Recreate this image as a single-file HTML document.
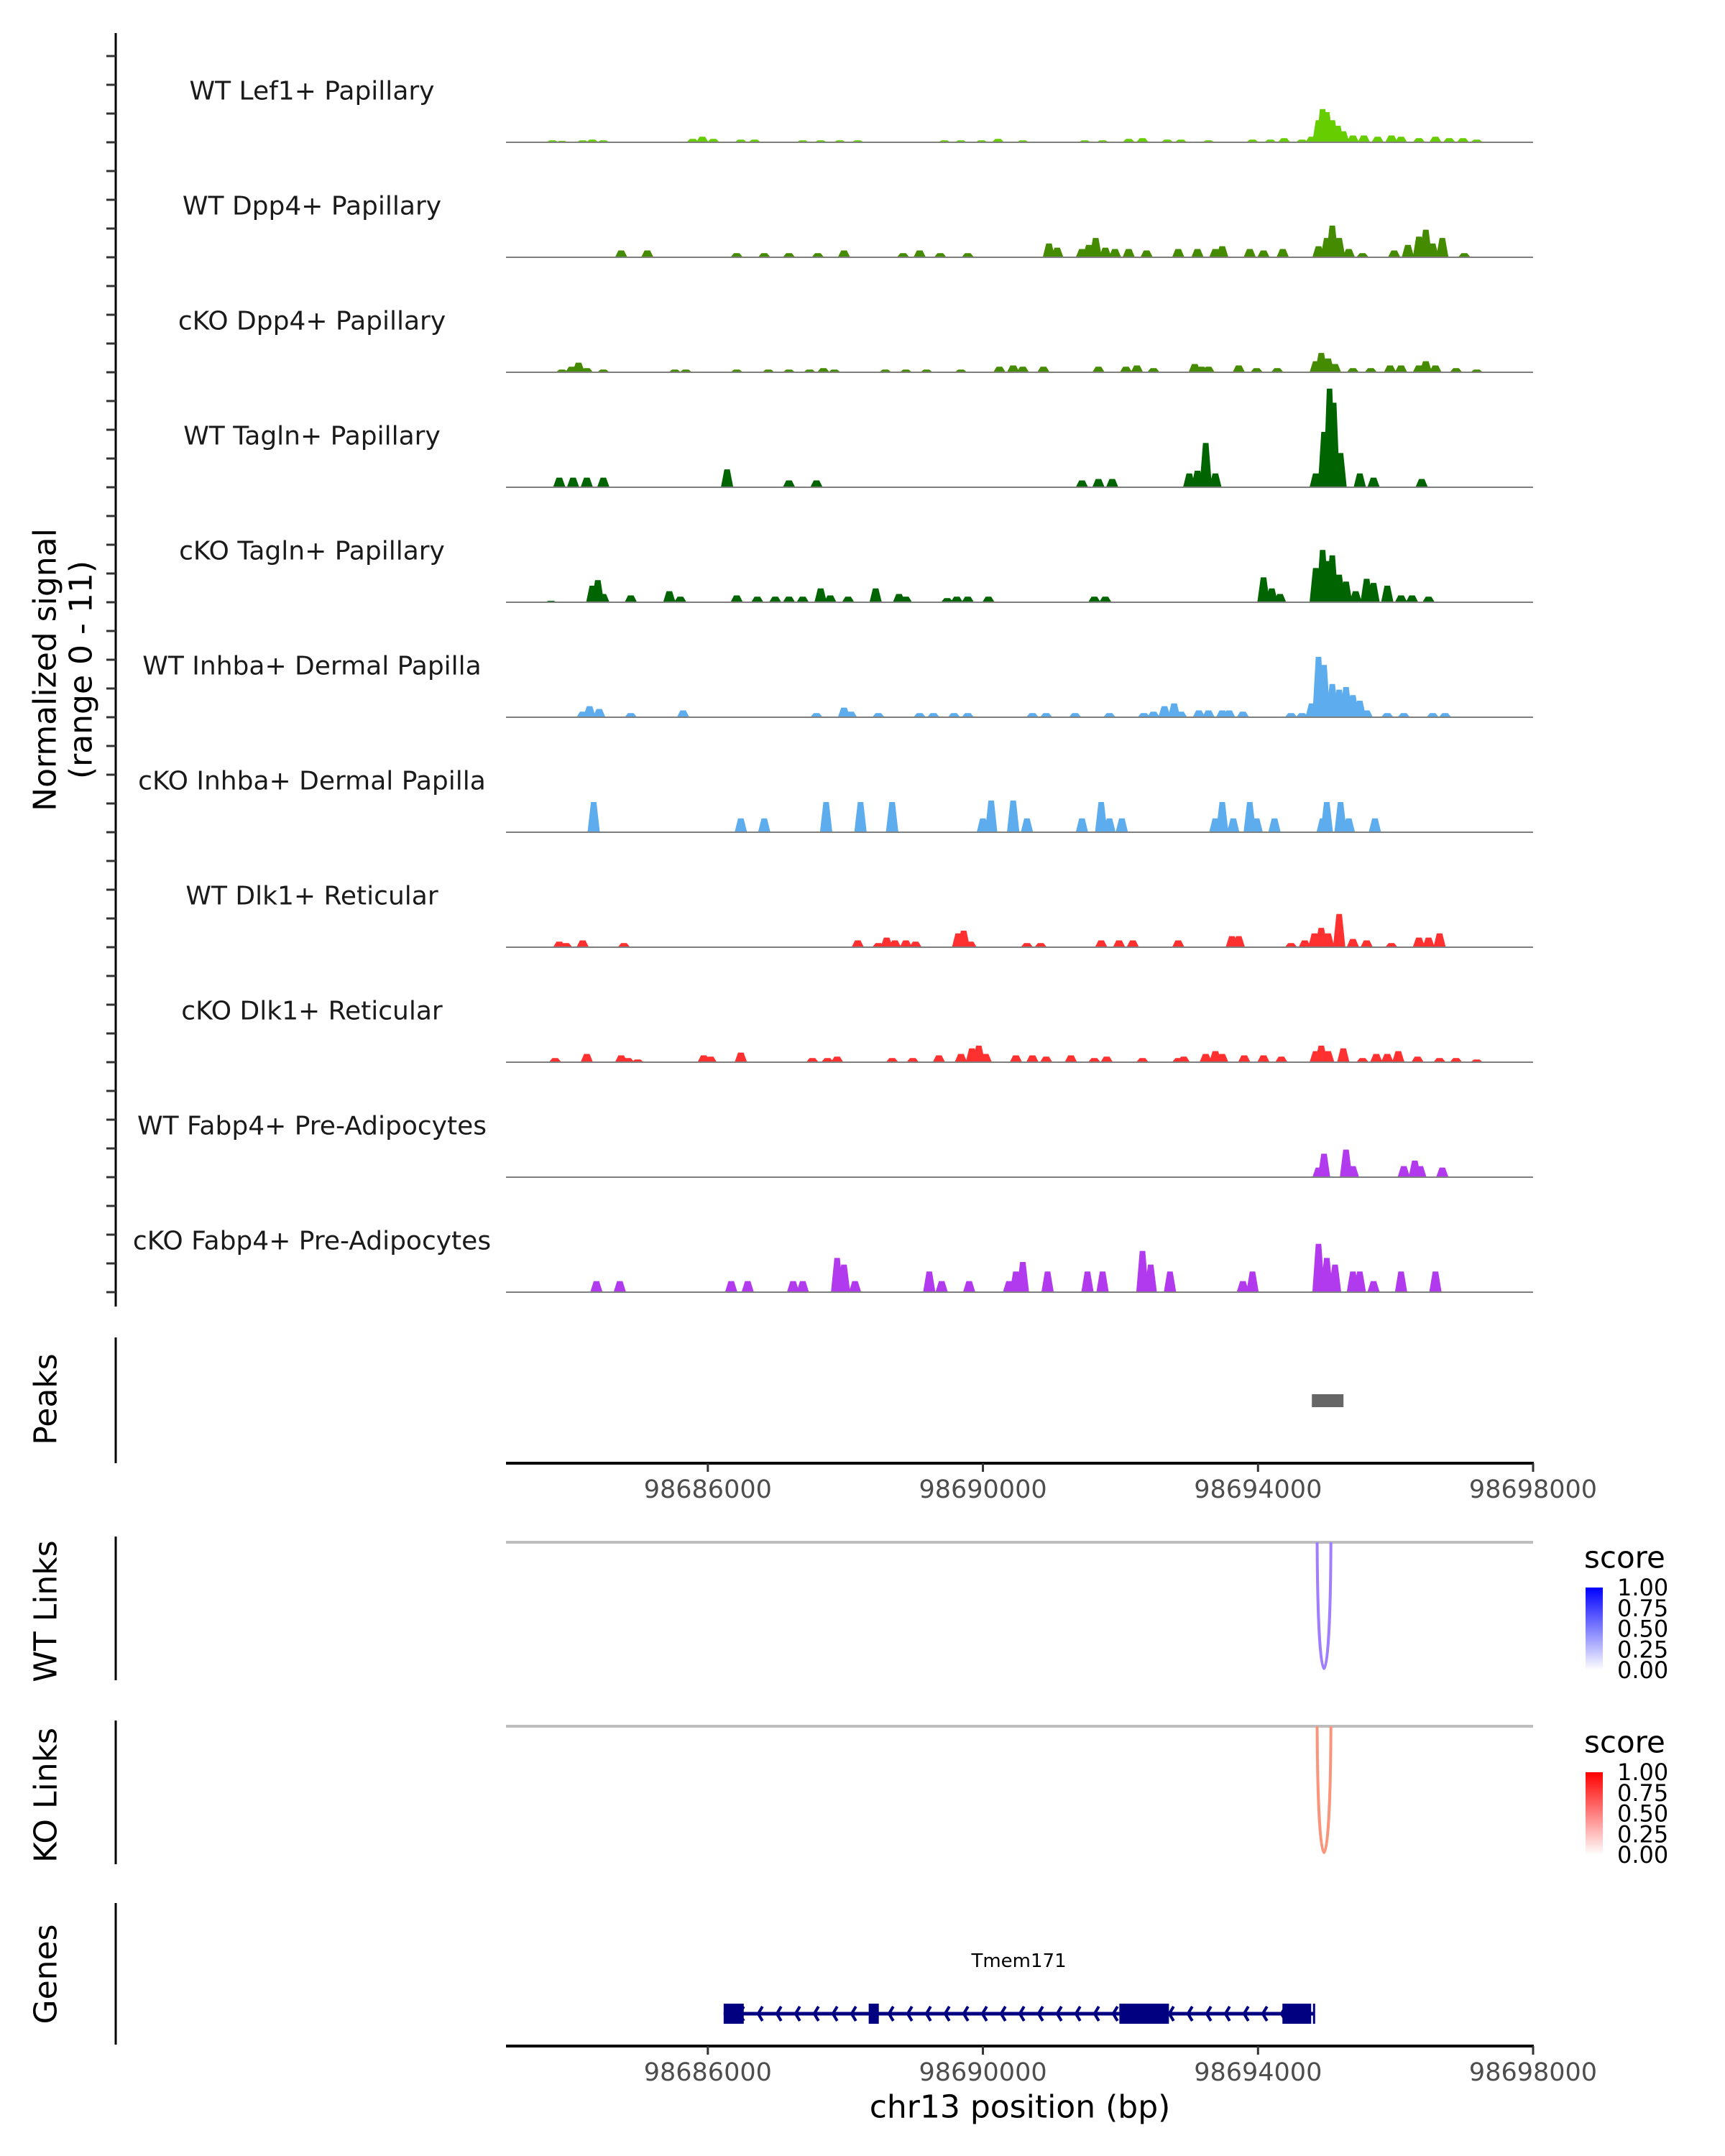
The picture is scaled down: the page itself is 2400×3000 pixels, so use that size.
<!DOCTYPE html>
<html><head><meta charset="utf-8"><style>
html,body{margin:0;padding:0;background:#fff;}
svg{display:block;font-family:"DejaVu Sans","Liberation Sans",sans-serif;}
</style></head><body>
<svg id="chart" width="2400" height="3000" viewBox="0 0 2400 3000" xmlns="http://www.w3.org/2000/svg">
<rect x="0" y="0" width="2400" height="3000" fill="#fff"/>
<g id="tracks"></g>
<g id="lower"></g>
</svg>
<script>
// ---- data ----
const trackNames = ["WT Lef1+ Papillary","WT Dpp4+ Papillary","cKO Dpp4+ Papillary","WT Tagln+ Papillary","cKO Tagln+ Papillary","WT Inhba+ Dermal Papilla","cKO Inhba+ Dermal Papilla","WT Dlk1+ Reticular","cKO Dlk1+ Reticular","WT Fabp4+ Pre-Adipocytes","cKO Fabp4+ Pre-Adipocytes"];
const trackColors = ["#66cd00","#458b00","#458b00","#006400","#006400","#5cacee","#5cacee","#ff3030","#ff3030","#b23aee","#b23aee"];
const lef1Pos=[98683740,98683880,98684180,98684320,98684480,98685780,98685920,98686080,98686480,98686680,98687380,98687640,98687920,98688180,98689440,98689680,98689980,98690220,98690580,98691480,98691740,98692120,98692320,98692680,98692880,98693280,98693920,98694180,98694380,98694640,98694780,98694880,98694940,98695000,98695080,98695160,98695240,98695380,98695540,98695740,98695940,98696080,98696340,98696580,98696780,98696980,98697180];
const lef1Val=[.2,.14,.2,.27,.2,.34,.55,.34,.27,.27,.2,.2,.2,.2,.2,.2,.2,.34,.2,.2,.2,.34,.41,.27,.27,.2,.27,.27,.41,.27,.55,2.2,3.3,3.0,2.2,1.64,1.1,.68,.68,.55,.68,.55,.41,.55,.41,.41,.27];
const dpp4WtPos=[98684740,98685120,98686420,98686820,98687180,98687600,98687980,98688840,98689080,98689380,98689780,98690960,98691080,98691440,98691540,98691640,98691780,98691920,98692120,98692380,98692840,98693120,98693380,98693480,98693880,98694080,98694360,98694880,98695000,98695080,98695180,98695320,98695520,98695980,98696180,98696340,98696440,98696540,98696680,98697000];
const dpp4WtVal=[.68,.68,.41,.41,.41,.41,.68,.41,.68,.41,.41,1.37,.96,.82,1.23,1.92,.96,.82,.82,.68,.82,.82,.82,1.1,.82,.68,.82,1.1,1.92,3.15,1.92,.82,.41,.68,1.23,2.05,2.74,1.37,1.92,.41];
const dpp4KoPos=[98683880,98684020,98684120,98684240,98684480,98685520,98685680,98686420,98686880,98687180,98687480,98687680,98687840,98688580,98688880,98689180,98689680,98690240,98690440,98690580,98690880,98691680,98692080,98692240,98692480,98693080,98693180,98693280,98693720,98693980,98694280,98694840,98694920,98695020,98695120,98695380,98695640,98695920,98696080,98696340,98696440,98696580,98696880,98697180];
const dpp4KoVal=[.27,.55,.96,.41,.27,.27,.27,.27,.27,.27,.27,.41,.27,.27,.27,.27,.27,.55,.68,.55,.55,.55,.55,.68,.41,.82,.55,.55,.68,.41,.41,1.1,1.92,1.37,.82,.41,.41,.68,.68,.68,1.1,.68,.41,.27];
const taglnWtPos=[98683840,98684040,98684240,98684480,98686280,98687180,98687580,98691440,98691680,98691880,98693000,98693120,98693240,98693380,98694840,98694960,98695040,98695100,98695200,98695480,98695680,98696380];
const taglnWtVal=[.96,.96,.96,.96,1.78,.68,.68,.68,.82,.82,1.37,1.64,4.4,1.37,1.37,5.5,9.8,8.4,3.4,1.37,.96,.82];
const taglnKoPos=[98683720,98684320,98684400,98684480,98684880,98685440,98685600,98686420,98686720,98686980,98687180,98687380,98687640,98687780,98688040,98688440,98688780,98688880,98689480,98689620,98689780,98690080,98691620,98691780,98694080,98694200,98694320,98694840,98694940,98695000,98695080,98695180,98695280,98695420,98695580,98695680,98695880,98696080,98696240,98696480];
const taglnKoVal=[.14,1.64,2.2,.82,.68,1.1,.55,.68,.55,.55,.55,.55,1.37,.68,.55,1.37,.82,.55,.41,.55,.55,.55,.55,.55,2.47,1.37,.82,3.4,5.2,4.1,4.66,2.74,2.05,1.1,2.33,1.92,1.64,.68,.68,.55];
const inhbaWtPos=[98684180,98684280,98684420,98684880,98685640,98687580,98687980,98688080,98688480,98689080,98689280,98689580,98689780,98690720,98690920,98691340,98691840,98692340,98692480,98692640,98692780,98692880,98693140,98693280,98693480,98693580,98693780,98694480,98694640,98694780,98694880,98694960,98695080,98695180,98695280,98695380,98695480,98695580,98695880,98696120,98696540,98696720];
const inhbaWtVal=[.55,1.1,.82,.41,.68,.41,.96,.55,.41,.41,.41,.41,.41,.41,.41,.41,.41,.41,.55,1.1,1.37,.55,.68,.68,.68,.68,.55,.41,.41,1.37,6.0,5.2,3.3,2.74,3.0,2.2,1.64,.68,.41,.41,.41,.41];
const inhbaKoPos=[98684340,98686480,98686820,98687720,98688220,98688680,98690000,98690120,98690440,98690640,98691440,98691720,98691840,98692020,98693380,98693480,98693640,98693880,98693980,98694240,98694940,98695000,98695200,98695320,98695700];
const inhbaKoVal=[3.0,1.37,1.37,3.0,3.0,3.0,1.37,3.15,3.15,1.37,1.37,3.0,1.37,1.37,1.37,3.0,1.37,3.0,1.37,1.37,1.37,3.0,3.0,1.37,1.37];
const dlk1WtPos=[98683840,98683940,98684180,98684780,98688180,98688480,98688600,98688720,98688880,98689020,98689640,98689720,98689820,98690640,98690840,98691720,98691980,98692180,98692840,98693620,98693720,98694480,98694680,98694820,98694920,98695020,98695180,98695380,98695580,98695940,98696340,98696480,98696640];
const dlk1WtVal=[.55,.41,.68,.41,.68,.41,.96,.68,.68,.55,1.37,1.64,.55,.41,.41,.68,.68,.68,.68,1.1,1.1,.41,.68,1.37,1.92,1.37,3.3,.82,.68,.41,.96,.96,1.37];
const dlk1KoPos=[98683780,98684240,98684740,98684840,98684980,98685940,98686040,98686480,98687520,98687740,98687880,98688680,98688980,98689360,98689680,98689840,98689940,98690040,98690480,98690720,98690920,98691280,98691620,98691800,98692320,98692840,98692920,98693240,98693380,98693480,98693800,98694080,98694340,98694840,98694920,98695020,98695240,98695520,98695720,98695880,98696040,98696320,98696640,98696880,98697180];
const dlk1KoVal=[.41,.82,.68,.41,.27,.68,.55,.96,.41,.41,.55,.41,.41,.68,.82,1.37,1.64,.82,.68,.68,.55,.68,.41,.55,.41,.41,.55,.82,1.1,.82,.68,.68,.55,1.1,1.64,1.1,1.37,.41,.82,.82,1.1,.55,.41,.41,.27];
const fabp4WtPos=[98694880,98694960,98695280,98695380,98696120,98696280,98696360,98696680];
const fabp4WtVal=[.96,2.33,2.74,1.1,1.1,1.64,1.1,.96];
const fabp4KoPos=[98684380,98684720,98686340,98686580,98687240,98687380,98687880,98687980,98688140,98689220,98689400,98689800,98690380,98690480,98690580,98690940,98691520,98691740,98692320,98692440,98692720,98693780,98693920,98694880,98695000,98695120,98695380,98695480,98695680,98696080,98696580];
const fabp4KoVal=[1.1,1.1,1.1,1.1,1.1,1.1,3.4,2.74,1.1,2.05,1.1,1.1,1.1,2.05,3.0,2.05,2.05,2.05,4.1,2.74,2.05,1.1,2.05,4.8,3.4,2.74,2.05,2.05,1.1,2.05,2.05];
const trackPos=[lef1Pos,dpp4WtPos,dpp4KoPos,taglnWtPos,taglnKoPos,inhbaWtPos,inhbaKoPos,dlk1WtPos,dlk1KoPos,fabp4WtPos,fabp4KoPos];
const trackVal=[lef1Val,dpp4WtVal,dpp4KoVal,taglnWtVal,taglnKoVal,inhbaWtVal,inhbaKoVal,dlk1WtVal,dlk1KoVal,fabp4WtVal,fabp4KoVal];
const xTicks=[98686000,98690000,98694000,98698000];
const peakStart=[98694783]; const peakEnd=[98695243];
const wtLinkStart=[98694860]; const wtLinkEnd=[98695060]; const wtLinkScore=[0.55];
const koLinkStart=[98694860]; const koLinkEnd=[98695060]; const koLinkScore=[0.55];
const legendTicks=["1.00","0.75","0.50","0.25","0.00"];
const geneStart=98686230, geneEnd=98694815;
const exonStart=[98686230,98688339,98691984,98694355];
const exonEnd=[98686522,98688486,98692705,98694773];

// ---- scales ----
const NS="http://www.w3.org/2000/svg";
const X0=704, X1=2133, BP0=98683065, BP1=98698000;
function xs(bp){return X0+(bp-BP0)/(BP1-BP0)*(X1-X0);}
const YMAX=11, TRACK_H=154, FIRST_BASE=198, STEP=160;
function ys(v,base){return base - v/YMAX*TRACK_H;}
function el(tag,attrs,parent,text){const e=document.createElementNS(NS,tag);for(const k in attrs)e.setAttribute(k,attrs[k]);if(text!==undefined)e.textContent=text;parent.appendChild(e);return e;}

const tracksG=document.getElementById('tracks');
const lower=document.getElementById('lower');
let a=el('line',{x1:161,y1:46,x2:161,y2:1818,stroke:'#000','stroke-width':3},tracksG);


for(let t=0;t<11;t++){
  const base=FIRST_BASE+t*STEP;
  for(let k=0;k<4;k++){
    const ty=base-k*40;
    const tk=el('line',{x1:148,y1:ty,x2:161,y2:ty,stroke:'#333','stroke-width':3},tracksG);
    
    
  }
  const g=el('g',{},tracksG);
  
  
  const lbl=el('text',{x:434,y:base-71,'font-size':36,'text-anchor':'middle','dominant-baseline':'central',fill:'#1a1a1a'},g,trackNames[t]);
  
  
  const P=trackPos[t],V=trackVal[t];
  let d='';
  for(let i=0;i<P.length;i++){
    const xl=xs(P[i]-90),xr=xs(P[i]+90),tl=xs(P[i]-40),tr=xs(P[i]+40),yt=ys(V[i],base);
    d+='M'+xl.toFixed(1)+' '+base+'L'+tl.toFixed(1)+' '+yt.toFixed(1)+'L'+tr.toFixed(1)+' '+yt.toFixed(1)+'L'+xr.toFixed(1)+' '+base+'Z';
  }
  const area=el('path',{d:d,fill:trackColors[t]},g);
  
  
  const bl=el('line',{x1:X0,y1:base,x2:X1,y2:base,stroke:'#7f7f7f','stroke-width':2},g);
  
  
}
const yt=el('text',{transform:'translate(63,932) rotate(-90)','font-size':44,'text-anchor':'middle','dominant-baseline':'central',fill:'#000'},tracksG,'Normalized signal');


const yt2=el('text',{transform:'translate(113,932) rotate(-90)','font-size':44,'text-anchor':'middle','dominant-baseline':'central',fill:'#000'},tracksG,'(range 0 - 11)');



function panelTitle(txt,cy,y1,y2,name){
  const l=el('line',{x1:161,y1:y1,x2:161,y2:y2,stroke:'#000','stroke-width':3},lower);
  
  
  const t=el('text',{transform:'translate(64,'+cy+') rotate(-90)','font-size':44,'text-anchor':'middle','dominant-baseline':'central',fill:'#000'},lower,txt);
  
  
}
function xAxis(y,name){
  const l=el('line',{x1:X0,y1:y,x2:X1+1,y2:y,stroke:'#000','stroke-width':4},lower);
  
  
  xTicks.forEach(v=>{
    const tk=el('line',{x1:xs(v),y1:y,x2:xs(v),y2:y+12,stroke:'#333','stroke-width':3},lower);
    
    
    const tl=el('text',{x:xs(v),y:y+37,'font-size':35,'text-anchor':'middle','dominant-baseline':'central',fill:'#4d4d4d'},lower,String(v));
    
    
  });
}
panelTitle('Peaks',1947,1861,2036,'peaks');
peakStart.forEach((s,i)=>{
  const r=el('rect',{x:xs(s),y:1940,width:xs(peakEnd[i])-xs(s),height:18,fill:'#666'},lower);
  
  
});
xAxis(2036,'peaks-x-axis');
function links(starts,ends,scores,topY,botY,colFn,name,legendY,gradId,c1){
  panelTitle(name==='wt-links'?'WT Links':'KO Links',(topY+botY)/2+4,topY-8,botY+8,name);
  const gl=el('line',{x1:X0,y1:topY,x2:X1,y2:topY,stroke:'#bebebe','stroke-width':4},lower);
  
  
  starts.forEach((s,i)=>{
    const x1=xs(s),x2=xs(ends[i]),depth=(botY-topY)*0.98;
    const p=el('path',{d:'M'+x1+' '+topY+' C'+(x1+1)+' '+(topY+depth*1.3)+' '+(x2-1)+' '+(topY+depth*1.3)+' '+x2+' '+topY,fill:'none',stroke:colFn(scores[i]),'stroke-width':4},lower);
    
    
  });
  const lt=el('text',{x:2204,y:legendY,'font-size':42,fill:'#000','dominant-baseline':'central'},lower,'score');
  
  
  const defs=el('defs',{},lower);
  const lg=el('linearGradient',{id:gradId,x1:0,y1:1,x2:0,y2:0},defs);
  el('stop',{offset:0,'stop-color':'#ffffff'},lg);
  el('stop',{offset:1,'stop-color':c1},lg);
  const by=legendY+42;
  const bar=el('rect',{x:2206,y:by,width:24,height:115,fill:'url(#'+gradId+')'},lower);
  
  
  legendTicks.forEach((t,i)=>{
    const ty=by+i*115/4;
    const tl=el('text',{x:2250,y:ty,'font-size':32,fill:'#000','dominant-baseline':'central'},lower,t);
    
    
  });
}
links(wtLinkStart,wtLinkEnd,wtLinkScore,2146,2330,s=>'#9f7fff','wt-links',2167,'gradWT','#0000ff');
links(koLinkStart,koLinkEnd,koLinkScore,2402,2586,s=>'#fa957c','ko-links',2424,'gradKO','#ff0000');
panelTitle('Genes',2747,2648,2845,'genes');
const gn=el('text',{x:(xs(geneStart)+xs(geneEnd))/2,y:2729,'font-size':26,'text-anchor':'middle','dominant-baseline':'central',fill:'#000'},lower,'Tmem171');


const gl=el('line',{x1:xs(geneStart),y1:2802,x2:xs(geneEnd),y2:2802,stroke:'#000080','stroke-width':5},lower);


let cd='';
for(let cx=xs(geneStart)+22;cx<xs(geneEnd)-10;cx+=26){cd+='M'+(cx+6)+' 2792 L'+cx+' 2802 L'+(cx+6)+' 2812 ';}
const ch=el('path',{d:cd,fill:'none',stroke:'#000080','stroke-width':4},lower);


exonStart.forEach((s,i)=>{
  const r=el('rect',{x:xs(s),y:2788,width:xs(exonEnd[i])-xs(s),height:28,fill:'#000080'},lower);
  
  
});
const et=el('line',{x1:xs(geneEnd),y1:2788,x2:xs(geneEnd),y2:2816,stroke:'#000080','stroke-width':3},lower);


xAxis(2847,'genes-x-axis');
const xt=el('text',{x:1419,y:2932,'font-size':44,'text-anchor':'middle','dominant-baseline':'central',fill:'#000'},lower,'chr13 position (bp)');


</script>
</body></html>
